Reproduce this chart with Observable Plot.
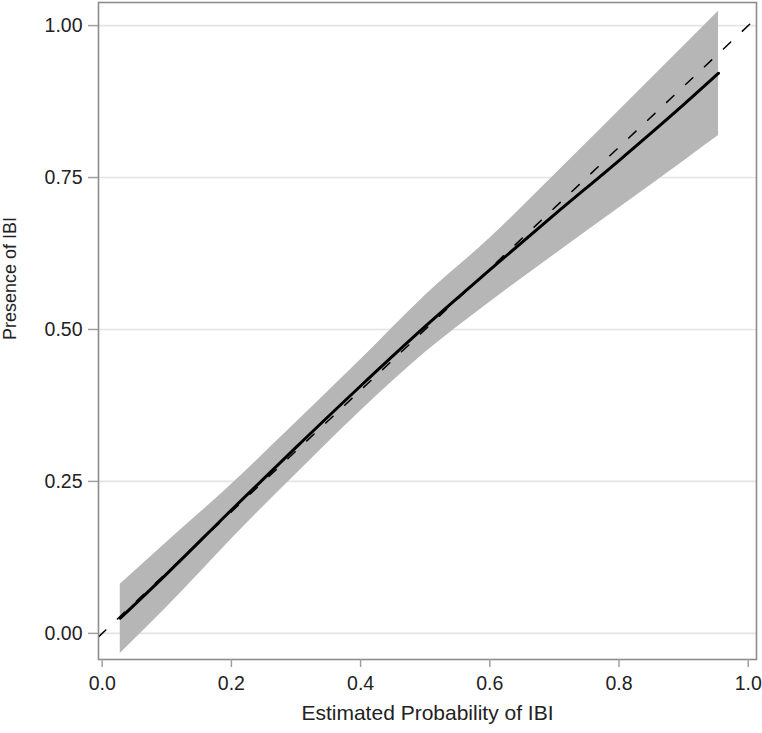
<!DOCTYPE html>
<html>
<head>
<meta charset="utf-8">
<script src="https://cdn.jsdelivr.net/npm/d3@7"></script>
<script src="https://cdn.jsdelivr.net/npm/@observablehq/plot@0.6"></script>
<style>
  html, body { margin: 0; padding: 0; background: #fff; }
  #chart svg { display: block; }
</style>
</head>
<body>
<div id="chart"></div>
<script>
// Estimated probability (x) at which the calibration curve was sampled
const estProb   = [0.028, 0.1, 0.2, 0.3, 0.4, 0.5, 0.6, 0.7, 0.8, 0.9, 0.954];
// Smoothed observed presence of IBI
const presence  = [0.025, 0.098, 0.203, 0.306, 0.407, 0.505, 0.598, 0.689, 0.778, 0.870, 0.9215];
// 95% confidence band
const ciUpper   = [0.081, 0.150, 0.245, 0.347, 0.450, 0.556, 0.650, 0.754, 0.860, 0.966, 1.0235];
const ciLower   = [-0.033, 0.043, 0.155, 0.262, 0.366, 0.462, 0.545, 0.623, 0.700, 0.777, 0.819];
// Reference line of perfect calibration
const refX = [-0.0057, 1.0128];
const refY = [-0.0057, 1.0128];

const xTicks = [0, 0.2, 0.4, 0.6, 0.8, 1.0];
const yTicks = [0, 0.25, 0.5, 0.75, 1.0];
const xLabel = "Estimated Probability of IBI";
const yLabel = "Presence of IBI";

const curve = estProb.map((x, i) => ({x, y: presence[i], lo: ciLower[i], hi: ciUpper[i]}));
const ref = refX.map((x, i) => ({x, y: refY[i]}));

const font = "'Liberation Sans', Arial, Helvetica, sans-serif";

const chart = Plot.plot({
  width: 762,
  height: 733,
  marginLeft: 98,
  marginRight: 6,
  marginTop: 2,
  marginBottom: 74,
  style: {fontFamily: font, background: "#fff", color: "#222"},
  x: {domain: [-0.0057, 1.0128]},
  y: {domain: [-0.043, 1.038]},
  marks: [
    Plot.ruleY(yTicks, {stroke: "#e4e4e4", strokeWidth: 1.6}),
    Plot.areaY(curve, {x: "x", y1: "lo", y2: "hi", fill: "#b6b6b6", curve: "monotone-x"}),
    Plot.line(curve, {x: "x", y: "y", stroke: "#000", strokeWidth: 3, curve: "monotone-x"}),
    Plot.line(ref, {x: "x", y: "y", stroke: "#000", strokeWidth: 1.5, strokeDasharray: "10,16", clip: true}),
    Plot.frame({stroke: "#8c8c8c", strokeWidth: 1.6}),
    Plot.axisX({ticks: xTicks, tickFormat: d3.format(".1f"), tickSize: 8, tickPadding: 9,
      fontSize: 19.5, stroke: "#a0a0a0", strokeWidth: 1.5, label: null, fill: "#222"}),
    Plot.axisY({ticks: yTicks, tickFormat: d3.format(".2f"), tickSize: 10, tickPadding: 6,
      fontSize: 19.5, stroke: "#a0a0a0", strokeWidth: 1.5, label: null, fill: "#222"}),
    Plot.text([xLabel], {frameAnchor: "bottom", lineAnchor: "bottom", dy: 60, fontSize: 21, fill: "#222"}),
    Plot.text([yLabel], {frameAnchor: "left", lineAnchor: "bottom", rotate: -90, dx: -83, dy: 9, fontSize: 18, fill: "#222"})
  ]
});
document.getElementById("chart").appendChild(chart);
</script>
</body>
</html>
